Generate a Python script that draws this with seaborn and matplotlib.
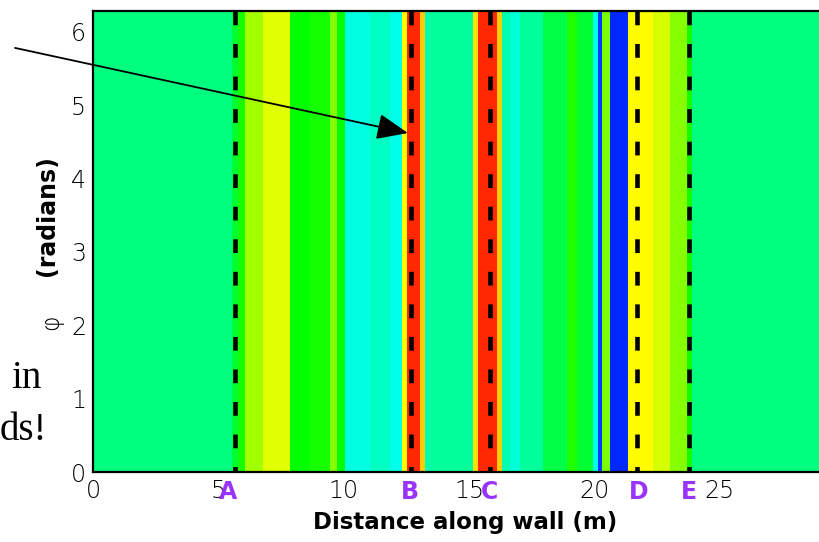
import numpy as np
import matplotlib
matplotlib.use("Agg")
import matplotlib.pyplot as plt
from matplotlib.colors import LinearSegmentedColormap
import seaborn as sns

# ---- data ----
band_edges = [0, 5.54, 5.78, 6.06, 6.78, 7.86, 8.66, 9.45, 9.73, 10.05, 11.05,
              11.85, 12.33, 12.52, 13.04, 13.24, 13.44, 15.16, 15.36, 16.11,
              16.31, 16.63, 17.03, 17.95, 18.91, 19.31, 19.94, 20.14, 20.30,
              20.62, 21.34, 22.34, 23.02, 23.69, 23.89, 29.0]
band_levels = [0.375, 0.45, 0.52, 0.66, 0.72, 0.50, 0.52, 0.63, 0.50, 0.28,
               0.31, 0.27, 0.75, 0.96, 0.80, 0.33, 0.35, 0.78, 0.96, 0.80,
               0.33, 0.29, 0.35, 0.43, 0.53, 0.45, 0.27, 0.06, 0.62, 0.04,
               0.75, 0.71, 0.63, 0.52, 0.375]
phi_edges = [0, 2 * np.pi]

marker_x = [5.66, 12.68, 15.84, 21.70, 23.77]
marker_labels = ["A", "B", "C", "D", "E"]
marker_label_x = [5.39, 12.66, 15.80, 21.75, 23.77]

x_ticks = [0, 5, 10, 15, 20, 25]
y_ticks = [0, 1, 2, 3, 4, 5, 6]

arrow_tip = (12.56, 4.62)
arrow_tail = (-3.11, 5.78)

# ---- style ----
sns.set_style("ticks")
plt.rcParams["font.family"] = ["DejaVu Sans"]
plt.rcParams["text.color"] = "black"
plt.rcParams["axes.labelcolor"] = "black"

cmap = LinearSegmentedColormap.from_list(
    "rainbow5", [(0, 0, 1), (0, 1, 1), (0, 1, 0), (1, 1, 0), (1, 0, 0)])

W, H = 819, 542
fig = plt.figure(figsize=(W / 100, H / 100), dpi=100)
ax_left, ax_right, ax_top, ax_bottom = 93, 820, 11, 472
ax = fig.add_axes([ax_left / W, 1 - ax_bottom / H,
                   (ax_right - ax_left) / W, (ax_bottom - ax_top) / H])

ax.pcolormesh(band_edges, phi_edges, np.array([band_levels]),
              cmap=cmap, vmin=0, vmax=1, shading="flat", antialiased=True)

ymax = 2 * np.pi
for xv in marker_x:
    ax.plot([xv, xv], [ymax, 0], color="black", lw=3.3,
            dashes=(3.0, 4.1), solid_capstyle="butt", dash_capstyle="butt")

ax.set_xlim(0, 29)
ax.set_ylim(0, ymax)
ax.set_xticks(x_ticks)
ax.set_yticks(y_ticks)
ax.set_xticks(np.arange(0, 29, 1), minor=True)
ax.set_yticks(np.arange(0, 6.3, 0.2), minor=True)
ax.tick_params(which="both", direction="in", color="black", width=1.2,
               top=False, right=False)
ax.tick_params(which="major", length=7.5, labelsize=17, pad=5,
               labelcolor="black")
ax.tick_params(which="minor", length=4.5)
for lbl in ax.get_xticklabels() + ax.get_yticklabels():
    lbl.set_fontweight("light")
for s in ["top", "left", "bottom"]:
    ax.spines[s].set_linewidth(1.6)
    ax.spines[s].set_color("black")
ax.spines["right"].set_visible(False)

for xl, lab in zip(marker_label_x, marker_labels):
    ax.text(xl, -0.044, lab, transform=ax.get_xaxis_transform(),
            ha="center", va="center", color="#9933ff", fontsize=17,
            fontweight="bold")

fig.text(465 / W, 1 - 522 / H, "Distance along wall (m)", ha="center",
         va="center", fontsize=16.5, fontweight="bold", color="black")
fig.text(47 / W, 1 - 216 / H, "(radians)", rotation=90, ha="center",
         va="center", fontsize=17, fontweight="bold", color="black")
fig.text(51 / W, 1 - 322 / H, "φ", rotation=90, ha="center",
         va="center", fontsize=17, color="black", fontweight="light")

ax.annotate("", xy=arrow_tip, xytext=arrow_tail, annotation_clip=False,
            arrowprops=dict(arrowstyle="-|>,head_length=1.2,head_width=0.5",
                            color="black", lw=1.3, mutation_scale=16,
                            shrinkA=0, shrinkB=0))

fig.text(42 / W, 1 - 388 / H, "in", ha="right", va="baseline",
         family="Liberation Serif", fontsize=28, color="black")
fig.text(47 / W, 1 - 440 / H, "ds!", ha="right", va="baseline",
         family="Liberation Serif", fontsize=28, color="black")

fig.savefig("out.png", dpi=100)
